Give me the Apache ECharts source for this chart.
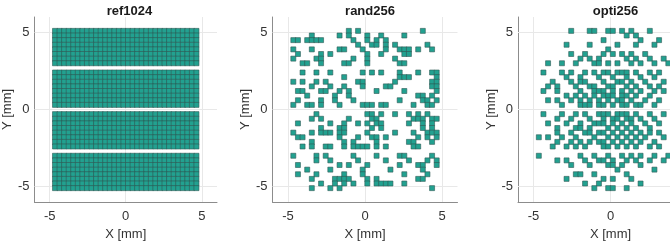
<!DOCTYPE html>
<html><head><meta charset="utf-8">
<script src="https://cdn.jsdelivr.net/npm/echarts@6/dist/echarts.min.js"></script>
<style>html,body{margin:0;padding:0;background:#fff;overflow:hidden;width:670px;height:248px}#c{width:720px;height:248px}</style>
</head><body><div id="c"></div>
<script>
const panelTitles = ['ref1024', 'rand256', 'opti256'];
const tickValues = [-5, 0, 5];
const axisNameX = 'X [mm]';
const axisNameY = 'Y [mm]';

// element grid (mm)
const colsX = [-4.65,-4.35,-4.05,-3.75,-3.45,-3.15,-2.85,-2.55,-2.25,-1.95,-1.65,-1.35,-1.05,-0.75,-0.45,-0.15,
               0.15,0.45,0.75,1.05,1.35,1.65,1.95,2.25,2.55,2.85,3.15,3.45,3.75,4.05,4.35,4.65];
const rowsY = [5.1,4.8,4.5,4.2,3.9,3.6,3.3,3.0,2.4,2.1,1.8,1.5,1.2,0.9,0.6,0.3,
               -0.3,-0.6,-0.9,-1.2,-1.5,-1.8,-2.1,-2.4,-3.0,-3.3,-3.6,-3.9,-4.2,-4.5,-4.8,-5.1];

// rand256: x positions (mm) of active elements, one list per row of rowsY
const randRowsX = [
  [-1.05,-0.45,3.75],
  [-3.45,-1.65,-1.05,0.15,1.05,2.55],
  [-4.65,-4.35,-3.75,-3.45,-3.15,-2.85,-0.75,0.15,0.75,1.35],
  [-0.45,0.45,0.75,1.35,1.95,4.05],
  [-4.65,-3.45,-1.65,-1.35,-0.15,1.35,2.25,2.55,2.85,3.45,4.35],
  [-4.35,-2.85,-2.25,0.15,1.05,2.55,2.85],
  [-4.65,-3.15,-2.85,-0.75,0.15,1.95],
  [-4.05,-3.75,-2.85,-1.35,-1.05,0.15,2.25,2.55],
  [-4.05,-3.15,-2.25,-0.15,0.45,1.05,2.25,3.45,4.35,4.65],
  [-1.35,2.25,2.55,2.85,4.65],
  [-4.65,-4.05,-3.15,-2.55,-0.45,-0.15,1.95,4.35,4.65],
  [-3.45,-2.25,-1.35,-0.15,1.35,1.65,4.35,4.65],
  [-4.35,-4.05,-2.85,-2.55,-1.65,-1.05,0.75,2.55,4.65],
  [-3.75,-1.95,-1.05,3.45,3.75,4.35],
  [-4.35,-2.85,-1.95,-0.75,2.25,3.75,4.05,4.65],
  [-4.65,-3.75,-3.45,-2.85,-1.65,-0.15,0.15,0.45,1.05,1.35,3.15,4.05,4.35],
  [-3.15,0.15,0.45,1.05,1.95,2.85,3.45,4.05],
  [-3.45,-2.85,-1.05,0.45,0.75,3.15,3.45,3.75,4.35,4.65],
  [-4.35,-2.25,-1.35,-0.45,0.15,0.75,1.05,2.85,3.75,4.35],
  [-2.85,-1.65,-1.35,0.45,1.05,3.75,4.35],
  [-4.65,-3.45,-2.85,-2.55,-2.25,-1.65,-1.35,0.15,1.95,3.15,4.05,4.35,4.65],
  [-4.35,-4.05,-1.65,-0.45,0.45,0.75,1.35,3.45,4.05,4.65],
  [-3.45,-1.35,-0.75,0.75,2.85,3.15,4.35],
  [-4.05,-3.45,-2.55,-2.25,-1.35,-0.75,-0.45,-0.15,0.15,0.75,1.35,3.15,3.45],
  [-4.65,-3.15,-2.55,-0.75,0.75,2.25,2.55,4.35],
  [-3.15,-2.25,-0.45,1.35,2.85,4.05,4.65],
  [-4.35,-1.65,-1.05,0.15,2.25,3.45,3.75,4.65],
  [-3.75,-2.25,-0.15,1.65,3.75],
  [-4.35,-3.15,-1.35,-0.15,2.55,4.05],
  [-3.45,-1.95,-1.65,-1.35,-1.05,0.15,0.75,3.45,3.75],
  [-2.85,-1.95,-1.35,-0.75,0.15,0.75,1.05,1.35,1.65,2.55],
  [-3.45,-2.25,-1.65,4.35]
];

// opti256: x positions (mm) of active elements, one list per row of rowsY
const optiRowsX = [
  [-2.55,-1.35,-1.05,-0.15,0.15,0.75,1.35,2.55],
  [1.05,1.65],
  [-0.45,1.95,3.15],
  [-2.85,-1.35,0.45,1.65,2.85],
  [-0.15],
  [-2.55,-1.65,-0.45,0.15,0.75,1.35,2.25],
  [-1.95,-1.35,-0.75,1.05,1.65,2.55,3.45],
  [-4.05,-3.15,-2.25,-1.05,-0.75,-0.15,0.45,1.35,1.95,2.85,3.75],
  [-4.35,-3.15,-2.55,-1.65,-1.05,-0.45,-0.15,0.45,0.75,1.05,1.65,2.55,3.15],
  [-2.85,-1.95,-0.75,0.15,1.05,1.95,2.85],
  [-3.75,-2.55,-1.95,-1.65,-0.45,0.45,0.75,1.35,2.25,3.45],
  [-4.05,-3.45,-2.25,-1.35,-1.05,-0.15,0.15,1.05,1.65,2.55,3.15],
  [-4.35,-3.45,-1.95,-1.05,-0.75,-0.45,0.15,0.75,1.35,1.95,2.85,3.45],
  [-2.85,-2.25,-1.65,-1.05,-0.45,-0.15,0.15,0.75,1.05,1.65,2.55],
  [-4.05,-3.45,-2.55,-1.95,-1.35,-0.75,-0.15,0.45,0.75,1.35,2.25,3.15],
  [-3.15,-1.95,-1.65,-1.35,-0.75,-0.45,0.15,0.75,1.05,1.65,1.95,2.85],
  [-4.35,-3.15,-2.25,-1.65,-0.75,-0.45,-0.15,0.45,0.75,1.05,1.65,2.55,3.45],
  [-3.45,-2.55,-1.35,-0.45,0.15,0.45,1.05,1.35,1.95,2.85],
  [-4.05,-2.85,-1.95,-1.05,-0.75,-0.45,0.15,0.75,1.35,2.25,3.15],
  [-3.45,-2.25,-1.95,-1.35,-0.15,0.45,1.05,1.65,2.55],
  [-3.45,-2.55,-1.65,-1.35,-0.75,-0.45,0.15,0.75,1.35,1.95,2.55,3.15],
  [-4.65,-4.05,-3.15,-2.25,-1.05,-0.15,0.45,1.05,1.65,2.25,3.45],
  [-3.45,-2.55,-1.95,-1.35,-0.75,-0.45,0.15,0.75,1.35,1.95,2.85],
  [-3.75,-2.85,-2.25,-1.65,-0.45,-0.15,0.45,1.05,1.65,2.55,3.15],
  [-4.65,-1.95,-1.05,-0.15,0.75,1.35,1.95,2.85,3.75],
  [-3.45,-2.85,-1.65,-0.75,-0.45,0.15,1.05,1.65,2.55,3.45],
  [-2.55,-1.35,-0.15,0.15,0.75,1.95],
  [0.45,2.85],
  [-2.25,-1.95,-1.05,1.05],
  [-2.85,-0.45,0.15,1.35],
  [-1.65,-0.75,1.95],
  [-1.05,-0.15,0.15,1.05]
];

function fullGrid() {
  const pts = [];
  rowsY.forEach(y => colsX.forEach(x => pts.push([x, y])));
  return pts;
}
function fromRows(rowsX) {
  const pts = [];
  rowsX.forEach((xs, i) => xs.forEach(x => pts.push([x, rowsY[i]])));
  return pts;
}
const panelData = [fullGrid(), fromRows(randRowsX), fromRows(optiRowsX)];

const gridLefts = [32, 272.5, 518];
const font = 'Liberation Sans, Arial, Helvetica, sans-serif';
const axisCol = '#8c8c8c';
const textCol = '#333333';

const option = {
  animation: false,
  backgroundColor: '#ffffff',
  title: panelTitles.map((t, i) => ({
    text: t, left: gridLefts[i] + 92.5, top: 0, textAlign: 'center',
    textStyle: { fontFamily: font, fontSize: 13, fontWeight: 'bold', color: '#1a1a1a' }
  })),
  grid: gridLefts.map(l => ({ left: l, top: 17, width: 185, height: 185 })),
  xAxis: gridLefts.map((l, i) => ({
    gridIndex: i, type: 'value', min: -6, max: 6,
    name: axisNameX, nameLocation: 'middle', nameGap: 23,
    nameTextStyle: { fontFamily: font, fontSize: 13, color: textCol },
    axisLine: { show: true, onZero: false, lineStyle: { color: axisCol, width: 1 } },
    axisTick: { show: true, inside: true, length: 3, customValues: tickValues, lineStyle: { color: axisCol } },
    axisLabel: { customValues: tickValues, fontFamily: font, fontSize: 13, color: textCol, margin: 8 },
    splitLine: { show: false }
  })),
  yAxis: gridLefts.map((l, i) => ({
    gridIndex: i, type: 'value', min: -6, max: 6,
    name: axisNameY, nameLocation: 'middle', nameGap: 19,
    nameTextStyle: { fontFamily: font, fontSize: 13, color: textCol },
    axisLine: { show: true, onZero: false, lineStyle: { color: axisCol, width: 1 } },
    axisTick: { show: true, inside: true, length: 3, customValues: tickValues, lineStyle: { color: axisCol } },
    axisLabel: { customValues: tickValues, fontFamily: font, fontSize: 13, color: textCol, margin: 5 },
    splitLine: { show: false }
  })),
  series: panelData.map((d, i) => ({
    type: 'scatter', xAxisIndex: i, yAxisIndex: i, z: 3,
    symbol: 'rect', symbolSize: 5,
    itemStyle: { color: '#22a190', borderColor: '#2f5a55', borderWidth: 0.6, opacity: 1 },
    data: d,
    markLine: {
      silent: true, z: 1, symbol: 'none', animation: false,
      label: { show: false },
      lineStyle: { color: '#e8e8e8', type: 'solid', width: 1 },
      data: tickValues.map(v => ({ xAxis: v })).concat(tickValues.map(v => ({ yAxis: v })))
    }
  }))
};
const chart = echarts.init(document.getElementById('c'), null, { renderer: 'canvas' });
chart.setOption(option);
</script></body></html>
